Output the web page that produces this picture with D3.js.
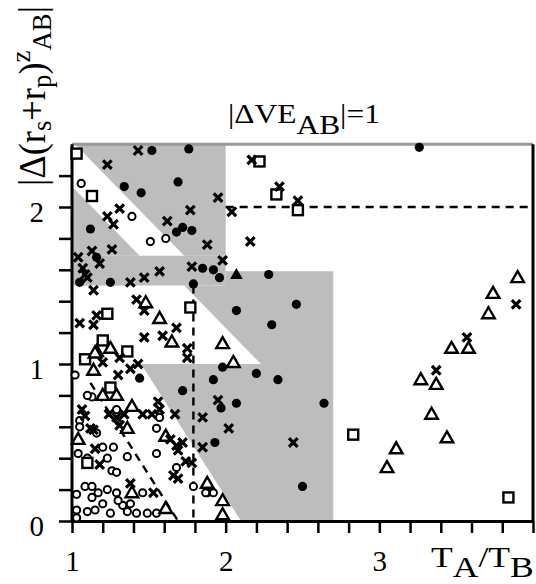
<!DOCTYPE html>
<html><head><meta charset="utf-8">
<script src="https://cdn.jsdelivr.net/npm/d3@7"></script>
<style>body{margin:0;background:#fff}svg{display:block}</style>
</head><body>
<svg id="c" width="536" height="584"></svg>
<script>
// ---------- data ----------
const xDomain = [1, 4];
const yDomain = [0, 2.4];
const xTickValues = [1,1.2,1.4,1.6,1.8,2,2.2,2.4,2.6,2.8,3,3.2,3.4,3.6,3.8,4];
const xTickLabels = [1, 2, 3];
const yTickValues = [0,0.2,0.4,0.6,0.8,1,1.2,1.4,1.6,1.8,2,2.2];
const yTickLabels = [0, 1, 2];

// shaded regions (data coordinates)
const shadeA = [[1.02,2.4],[2.0,2.4],[2.0,1.69],[1.73,1.69]];
const shadeB = [[1.0,2.13],[1.44,1.69],[1.0,1.69]];
const shadeC = [[1.0,1.69],[2.0,1.69],[2.0,1.50],[1.0,1.50]];
const shadeD = [[1.73,1.50],[2.0,1.50],[2.0,1.59],[2.7,1.59],[2.7,1.0],[2.23,1.0]];
const shadeE = [[1.45,1.0],[2.7,1.0],[2.7,0],[2.1,0]];

// dashed lines
const dashH = [[2.0,2.0],[4.0,2.0]];
const dashV = [[1.79,1.5],[1.79,0]];
const dashDiag = [[1.12,0.88],[1.69,0.0]];

const filledCircles = [[1.34,2.13],[1.69,2.16],[1.45,2.09],[1.12,1.86],[1.68,1.84],[1.72,1.87],[1.78,1.85],
 [1.16,1.68],[1.85,1.61],[1.92,1.60],[1.96,1.55],[1.05,1.52],[1.25,1.52],[1.79,1.51],[2.28,1.57],[2.46,1.38],
 [2.07,1.34],[2.30,1.25],[1.98,0.98],[2.20,0.94],[1.92,0.90],[2.34,0.90],[1.97,0.72],[2.07,0.75],[2.64,0.75],
 [1.93,0.50],[2.50,0.22],[1.44,0.91],[1.72,0.83],[3.26,2.38],[1.52,2.36],[1.76,2.37]];
const openCircles = [[1.06,2.15],[1.39,1.94],[1.51,1.78],[1.61,1.80],[1.02,0.93],[1.13,0.79],[1.29,0.71],
 [1.05,0.64],[1.05,0.60],[1.57,0.66],[1.55,0.59],[1.16,0.56],[1.20,0.47],[1.27,0.47],[1.04,0.43],[1.23,0.40],
 [1.36,0.41],[1.55,0.43],[1.10,0.40],[1.68,0.34],[1.26,0.32],[1.29,0.31],[1.79,0.22],[1.88,0.18],[1.92,0.18],
 [1.87,0.18],[1.46,0.18],[1.10,0.80],[1.03,0.17],[1.085,0.22],[1.13,0.22],[1.23,0.20],[1.29,0.18],[1.13,0.15],
 [1.20,0.11],[1.33,0.10],[1.38,0.11],[1.03,0.07],[1.10,0.06],[1.15,0.07],[1.25,0.05],[1.36,0.06],[1.42,0.05],
 [1.49,0.05],[1.55,0.05],[1.03,0.02],[1.30,0.13],[1.17,0.18]];
const crosses = [[1.23,2.27],[1.95,2.06],[1.31,1.99],[1.77,1.98],[2.04,1.97],[1.23,1.94],[1.27,1.89],[1.62,1.91],
 [1.88,1.76],[1.13,1.72],[1.26,1.73],[1.04,1.68],[1.18,1.64],[1.98,1.66],[1.07,1.61],[1.57,1.59],[1.47,1.55],
 [1.78,1.62],[1.085,1.57],[1.38,1.52],[1.14,1.47],[1.42,1.41],[1.47,1.34],[1.16,1.31],[1.05,1.26],[1.14,1.25],
 [1.68,1.23],[1.47,1.17],[1.59,1.18],[2.17,2.30],[2.35,2.13],[2.47,2.04],[2.16,1.78],[1.95,0.77],[1.85,0.66],
 [2.02,0.59],[2.44,0.50],[1.85,0.47],[3.89,1.38],[3.57,1.17],[3.37,0.96],[1.20,1.01],[1.31,1.04],[1.38,0.97],
 [1.43,1.00],[1.30,0.93],[1.75,1.10],[1.75,1.04],[1.24,0.68],[1.34,0.68],[1.065,0.71],[1.085,0.67],[1.56,0.76],
 [1.57,0.71],[1.46,0.68],[1.52,0.68],[1.29,0.66],[1.31,0.61],[1.12,0.59],[1.14,0.58],[1.67,0.68],[1.15,0.46],
 [1.64,0.52],[1.68,0.48],[1.72,0.50],[1.69,0.45],[1.18,0.36],[1.74,0.38],[1.78,0.37],[1.66,0.29],[1.69,0.27],
 [1.38,0.24],[1.53,0.18],[1.10,1.55],[1.43,2.36]];
const openSquares = [[1.03,2.34],[1.13,2.07],[2.22,2.29],[2.33,2.08],[2.47,1.98],[1.77,1.36],[1.23,1.32],
 [1.20,1.15],[1.36,1.08],[1.085,1.03],[1.25,0.85],[1.10,0.37],[2.83,0.55],[3.84,0.15]];
const openTriangles = [[1.48,1.39],[1.57,1.29],[1.98,1.13],[2.05,1.01],[1.16,1.08],[1.25,1.10],[1.14,0.96],
 [1.65,1.14],[1.20,0.80],[1.29,0.80],[1.39,0.73],[1.36,0.59],[1.04,0.52],[1.61,0.54],[1.88,0.24],[1.98,0.13],
 [1.98,0.04],[1.39,0.18],[1.61,0.08],[1.15,1.07],[3.90,1.55],[3.74,1.45],[3.71,1.32],[3.47,1.10],[3.58,1.10],
 [3.27,0.90],[3.37,0.87],[3.34,0.68],[3.44,0.53],[3.11,0.46],[3.05,0.34]];
const filledTriangles = [[2.07,1.57]];

// ---------- drawing ----------
const svg = d3.select("#c");
const x = d3.scaleLinear().domain(xDomain).range([72, 533]);
const y = d3.scaleLinear().domain(yDomain).range([521, 144.2]);
const line = d3.line().x(d => x(d[0])).y(d => y(d[1]));
const SERIF = "'Liberation Serif','Times New Roman',serif";
const GRAY = "#bdbdbd";

// shading
[shadeA, shadeB, shadeC, shadeD, shadeE].forEach(p => {
  svg.append("path").attr("d", line(p) + "Z").attr("fill", GRAY).attr("stroke", "none");
});

// dashed lines
[dashH, dashV, dashDiag].forEach(p => {
  svg.append("path").attr("d", line(p)).attr("fill", "none").attr("stroke", "#000")
    .attr("stroke-width", 2.4).attr("stroke-dasharray", "8,6");
});

// frame: top (gray), right
svg.append("line").attr("x1", x(1)).attr("x2", x(4)).attr("y1", y(2.4)).attr("y2", y(2.4))
  .attr("stroke", "#999").attr("stroke-width", 3);
svg.append("line").attr("x1", x(4)).attr("x2", x(4)).attr("y1", y(2.4)).attr("y2", y(0))
  .attr("stroke", "#000").attr("stroke-width", 3);

// axes
const xAxis = d3.axisBottom(x).tickValues(xTickValues).tickSize(12).tickSizeOuter(0)
  .tickFormat(d => xTickLabels.includes(Math.round(d*10)/10) ? d3.format("d")(d) : "").tickPadding(17);
const gx = svg.append("g").attr("transform", `translate(0,${y(0)})`).call(xAxis);
const yAxis = d3.axisLeft(y).tickValues(yTickValues).tickSize(13).tickSizeOuter(0)
  .tickFormat(d => yTickLabels.includes(Math.round(d*10)/10) ? d3.format("d")(d) : "").tickPadding(15);
const gy = svg.append("g").attr("transform", `translate(${x(1)},0)`).call(yAxis);
[gx, gy].forEach(g => {
  g.select(".domain").attr("stroke", "#000").attr("stroke-width", 3);
  g.selectAll(".tick line").attr("stroke", "#000").attr("stroke-width", 2.5);
  g.selectAll(".tick text").attr("font-family", SERIF).attr("font-size", 29).attr("fill", "#000");
});
gy.selectAll(".tick text").attr("dy", "0.5em");
gy.select(".domain").attr("d", `M0,${y(0)+1.5}V${y(2.4)}`);

// markers
const mk = svg.append("g");
mk.selectAll(".fc").data(filledCircles).join("circle")
  .attr("cx", d => x(d[0])).attr("cy", d => y(d[1])).attr("r", 4.6).attr("fill", "#000");
mk.selectAll(".oc").data(openCircles).join("circle")
  .attr("cx", d => x(d[0])).attr("cy", d => y(d[1])).attr("r", 3.6)
  .attr("fill", "#fff").attr("stroke", "#000").attr("stroke-width", 2);
mk.selectAll(".sq").data(openSquares).join("rect")
  .attr("x", d => x(d[0]) - 5).attr("y", d => y(d[1]) - 5).attr("width", 10).attr("height", 10)
  .attr("fill", "#fff").attr("stroke", "#000").attr("stroke-width", 2.4);
const tri = "M0,-6.5L6.3,4.5L-6.3,4.5Z";
mk.selectAll(".tr").data(openTriangles).join("path")
  .attr("d", tri).attr("transform", d => `translate(${x(d[0])},${y(d[1])})`)
  .attr("fill", "#fff").attr("stroke", "#000").attr("stroke-width", 2.4).attr("stroke-linejoin", "miter");
mk.selectAll(".ft").data(filledTriangles).join("path")
  .attr("d", tri).attr("transform", d => `translate(${x(d[0])},${y(d[1])})`).attr("fill", "#000");
mk.selectAll(".cr").data(crosses).join("path")
  .attr("d", "M-4.3,-4.3L4.3,4.3M-4.3,4.3L4.3,-4.3")
  .attr("transform", d => `translate(${x(d[0])},${y(d[1])})`)
  .attr("stroke", "#000").attr("stroke-width", 3.2).attr("fill", "none");

// ---------- texts ----------
function fitWidth(sel, target) {
  const w = sel.node().getBBox().width;
  return target / w;
}
// title
const title = svg.append("text").attr("font-family", SERIF).attr("font-size", 27).attr("fill", "#000");
title.append("tspan").text("|ΔVE");
title.append("tspan").attr("dy", 11).text("AB");
title.append("tspan").attr("dy", -11).text("|=1");
{
  const s = fitWidth(title, 152);
  title.attr("transform", `translate(228,123) scale(${s},1)`);
}
// x label
const xl = svg.append("text").attr("font-family", SERIF).attr("font-size", 30).attr("fill", "#000");
xl.append("tspan").text("T");
xl.append("tspan").attr("dy", 10).text("A");
xl.append("tspan").attr("dy", -10).text("/T");
xl.append("tspan").attr("dy", 10).text("B");
{
  const s = fitWidth(xl, 100);
  xl.attr("transform", `translate(431,567) scale(${s},1)`);
}
// y label
const yl = svg.append("text").attr("font-family", SERIF).attr("font-size", 38).attr("fill", "#000");
yl.append("tspan").text("|Δ(r");
yl.append("tspan").attr("dy", 6).attr("font-size", 28).text("s");
yl.append("tspan").attr("dy", -6).text("+r");
yl.append("tspan").attr("dy", 6).attr("font-size", 28).text("p");
yl.append("tspan").attr("dy", -6).text(")");
yl.append("tspan").attr("dy", -15).attr("font-size", 28).text("z");
yl.append("tspan").attr("dy", 21).attr("font-size", 28).text("AB");
yl.append("tspan").attr("dy", -6).text("|");
{
  const s = fitWidth(yl, 180);
  yl.attr("transform", `translate(45,186) rotate(-90) scale(${s},1)`);
}
</script>
</body></html>
